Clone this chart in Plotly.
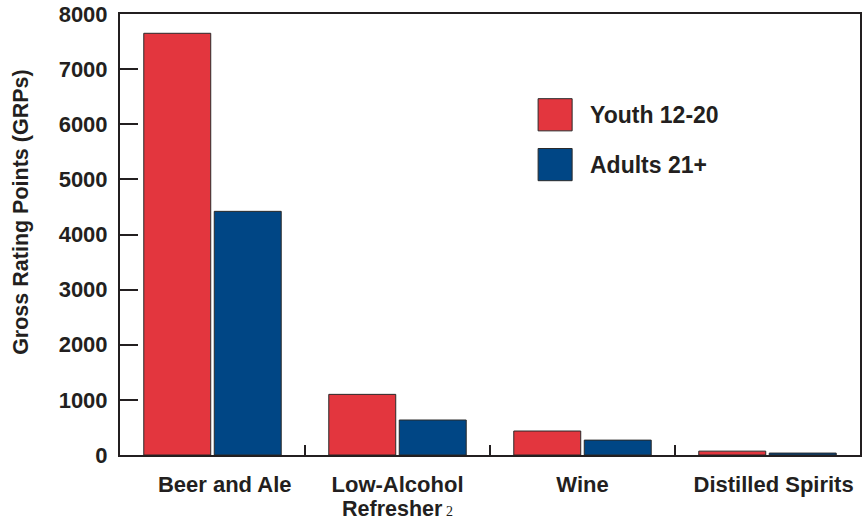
import plotly.graph_objects as go

NB = "\u00a0"
categories = ["Beer and Ale", "Low-Alcohol Refresher", "Wine", "Distilled Spirits"]
tick_text = [NB * 4 + "Beer and Ale", "Low-Alcohol", "Wine", NB * 2 + "Distilled Spirits"]
second_line = "Refresher<span style='font-family:Liberation Serif;font-weight:normal;font-size:14px'> 2</span>"
youth = [7650, 1100, 435, 70]
adults = [4420, 635, 270, 35]
series_names = ["Youth 12-20", "Adults 21+"]
colors = ["#E3363E", "#004685"]
y_ticks = [0, 1000, 2000, 3000, 4000, 5000, 6000, 7000, 8000]
y_title = "Gross Rating Points (GRPs)"

FONT = "Liberation Sans, Arial, sans-serif"
INK = "#231f20"

fig = go.Figure()
for name, vals, col in zip(series_names, [youth, adults], colors):
    fig.add_trace(go.Bar(x=categories, y=vals, name=name, marker=dict(color=col, line=dict(color="#2a2a2a", width=1)),
                         showlegend=False))

fig.update_layout(
    width=863, height=523,
    margin=dict(l=120, r=3, t=14, b=68),
    paper_bgcolor="white", plot_bgcolor="white",
    barmode="group", bargap=0.238, bargroupgap=0.05,
    font=dict(family=FONT, color=INK),
)
fig.update_xaxes(
    showline=True, linecolor=INK, linewidth=2, mirror=True,
    tickvals=categories, ticktext=tick_text,
    ticks="inside", tickson="boundaries", ticklen=10, tickwidth=2, tickcolor=INK,
    tickfont=dict(size=22, weight="bold", family=FONT, color=INK),
    ticklabelstandoff=9, showgrid=False, automargin=False,
)
fig.update_yaxes(
    range=[0, 8000], tickvals=y_ticks, showline=True, linecolor=INK, linewidth=2, mirror=True,
    ticks="inside", ticklen=18, tickwidth=2, tickcolor=INK,
    tickfont=dict(size=22, weight="bold", family=FONT, color=INK),
    ticklabelstandoff=6, showgrid=False, zeroline=False, automargin=False,
)

# second line of the Low-Alcohol Refresher label
fig.add_annotation(x=categories[1], xref="x", yref="paper", y=-0.1233, text=second_line,
                   showarrow=False, xanchor="center", yanchor="middle",
                   font=dict(size=21.5, weight="bold", family=FONT, color=INK))

fig.add_annotation(xref="paper", yref="paper", x=-0.134, y=0.551, text=y_title, textangle=-90,
                   showarrow=False, xanchor="center", yanchor="middle",
                   font=dict(size=21.5, weight="bold", family=FONT, color=INK))

# legend drawn as boxes and labels
leg = [(0.808, 0.735, 0.771), (0.695, 0.622, 0.658)]
for (y1, y0, yt), name, col in zip(leg, series_names, colors):
    fig.add_shape(type="rect", xref="paper", yref="paper", x0=0.565, x1=0.611, y0=y0, y1=y1,
                  fillcolor=col, line=dict(color="#2a2a2a", width=1))
    fig.add_annotation(xref="paper", yref="paper", x=0.632, y=yt, text=name, showarrow=False,
                       xanchor="left", yanchor="middle",
                       font=dict(size=23, weight="bold", family=FONT, color=INK))

fig.write_html("out.html")
